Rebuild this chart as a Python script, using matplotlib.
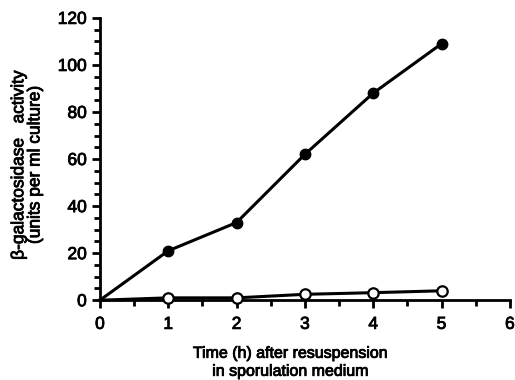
import numpy as np
import matplotlib.pyplot as plt
import matplotlib.patheffects as pe
from matplotlib.ticker import MultipleLocator

plt.rcParams.update({
    'font.family': 'Liberation Sans',
    'font.size': 12,
})

time_h = [0, 1, 2, 3, 4, 5]
filled_activity = [0, 21, 33, 62, 88, 109]
open_activity = [0, 1, 1, 2.5, 3.2, 4]

# scanned figure: text looks a bit heavier than plain regular weight
heavy = [pe.withStroke(linewidth=0.6, foreground='black')]

fig = plt.figure(figsize=(5.15, 3.8), dpi=100)
ax = fig.add_axes([0.194, 0.21, 0.796, 0.743])

ax.plot(time_h, filled_activity, '-', color='black', lw=2.2, marker='o', ms=7.5,
        markevery=[1, 2, 3, 4, 5], markerfacecolor='black', clip_on=False)
ax.plot(time_h, open_activity, '-', color='black', lw=2.2, marker='o', ms=7.5,
        markevery=[1, 2, 3, 4, 5], markerfacecolor='white', markeredgewidth=1.6,
        clip_on=False, zorder=3)

ax.set_xlim(0, 6)
ax.set_ylim(0, 120)
ax.xaxis.set_major_locator(MultipleLocator(1))
ax.xaxis.set_minor_locator(MultipleLocator(0.5))
ax.yaxis.set_major_locator(MultipleLocator(20))
ax.yaxis.set_minor_locator(MultipleLocator(5))
ax.tick_params(which='major', length=6, width=2, labelsize=12.5)
ax.tick_params(which='minor', length=4, width=2)
ax.tick_params(axis='x', pad=6)
for s in ['top', 'right']:
    ax.spines[s].set_visible(False)
for s in ['left', 'bottom']:
    ax.spines[s].set_linewidth(2)

ax.set_xlabel("Time (h) after resuspension\nin sporulation medium", fontsize=11.5,
              linespacing=1.25, labelpad=10, x=0.465)
ax.set_ylabel("β-galactosidase   activity\n(units per ml culture)", fontsize=12.5,
              linespacing=1.1, labelpad=11, y=0.48)

for t in ax.get_xticklabels() + ax.get_yticklabels() + [ax.xaxis.label, ax.yaxis.label]:
    t.set_path_effects(heavy)

fig.savefig("out.png", dpi=100)
